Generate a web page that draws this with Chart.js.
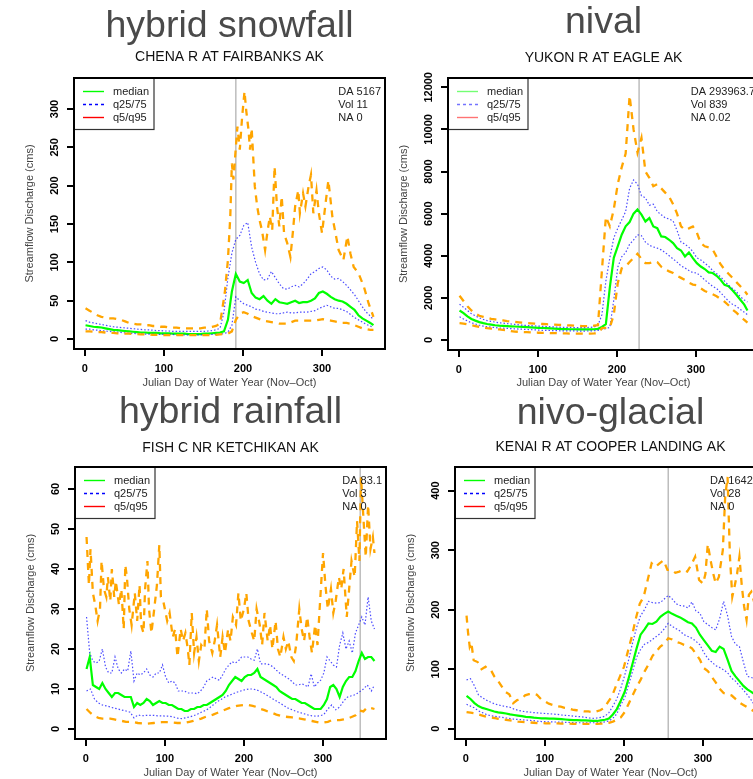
<!DOCTYPE html>
<html>
<head>
<meta charset="utf-8">
<script src="https://cdn.jsdelivr.net/npm/chart.js@4.4.1/dist/chart.umd.min.js"></script>
<style>
html, body { margin: 0; padding: 0; background: #fff; overflow: hidden; width: 753px; height: 779px; }
canvas { position: absolute; }
</style>
</head>
<body>
<canvas id="tl" width="392" height="390" style="left:0px;top:0px"></canvas>
<canvas id="tr" width="390" height="390" style="left:376px;top:0px"></canvas>
<canvas id="bl" width="393" height="390" style="left:0px;top:390px"></canvas>
<canvas id="br" width="397" height="390" style="left:376px;top:390px"></canvas>
<script>
// shared day grids (Julian day of water year)
const days5 = [1,6,11,16,21,26,31,36,41,46,51,56,61,66,71,76,81,86,91,96,101,106,111,116,121,126,131,136,141,146,151,156,161,166,171,176,181,186,191,196,201,206,211,216,221,226,231,236,241,246,251,256,261,266,271,276,281,286,291,296,301,306,311,316,321,326,331,336,341,346,351,356,361,365];
const days4 = [1,5,9,13,17,21,25,29,33,37,41,45,49,53,57,61,65,69,73,77,81,85,89,93,97,101,105,109,113,117,121,125,129,133,137,141,145,149,153,157,161,165,169,173,177,181,185,189,193,197,201,205,209,213,217,221,225,229,233,237,241,245,249,253,257,261,265,269,273,277,281,285,289,293,297,301,305,309,313,317,321,325,329,333,337,341,345,349,353,357,361,365];
const xTicks = [0, 100, 200, 300];
const legendLabels = ['median', 'q25/75', 'q5/q95'];

// ---- hybrid snowfall : CHENA R AT FAIRBANKS AK ----
const tlMedian = [18,17,16,15.5,15,14,13,12,11.5,11, 10.5,10,9.5,9,8.5,8.5,8,8,8,7.5, 7.5,7.5,7,7,7,7,6.5,6.5,6.5,6.5, 7,7,7.5,8,8.5,10,25,62,85,75, 73,77,60,54,52,56,50,46,52,48, 47,46,48,50,47,48,48,50,53,60, 62,59,55,52,50,49,46,42,38,31, 27,24,21,18];
const tlQ75 = [24,22,21,20,19,18,17,16,15.5,15, 14.5,14,13.5,13,12.5,12,12,11.5,11,11, 10.5,10.5,10,10,10,10,10,10,10,10, 10,10.5,11,12,14,35,80,112,130,135, 148,152,120,100,85,77,78,88,80,72, 66,65,68,70,68,72,78,85,88,92, 94,90,82,78,79,75,70,64,58,50, 42,35,30,25];
const tlQ25 = [13,13,12,11.5,11,10.5,10,9.5,9,8.5, 8,7.5,7.5,7,7,6.5,6.5,6.5,6,6, 6,6,6,5.5,5.5,5.5,5.5,5.5,5.5,5.5, 5.5,5.5,6,6,6.5,7,9,18,55,50, 46,44,42,39,38,36,35,34,33,33, 34,35,34,34,35,35,35,36,37,40, 42,44,42,40,40,38,36,32,28,25, 22,19,17,15];
const tlQ5 = [10,10,9.5,9,9,8.5,8,8,7.5,7.5, 7,7,6.5,6.5,6,6,6,5.5,5.5,5.5, 5,5,5,5,5,5,5,5,5,5, 5,5,5.5,5.5,6,6.5,7,10,25,33, 35,33,30,28,26,24,23,22,21,20, 20,20,22,24,24,24,24,24,24,25, 26,25,24,23,22,21,21,20,18,16, 14,13,12,12];
const tlQ95Days = [1,6,11,16,21,26,31,36,41,46,51,56,61,66,71,76,81,86,91,96,101,106,111,116,121,126,131,136,141,146,151,156,161,166,171,
  177,181,184,186,188,191,193,196,199,202,204,207,209,211,215,218,221,224,228,231,234,237,240,243,246,249,252,256,260,263,266,270,272,276,279,283,286,289,293,296,300,304,308,313,317,321,327,332,336,340,346,353,359,365];
const tlQ95 = [40,37,34,31,29,28,27,27,26,25,23,21,20,19,19,18,18,17,17,16,16,15,15,15,14,14,14,14,14,14,15,15,16,17,20,
  60,103,160,229,208,250,277,247,290,323,299,273,247,275,199,173,155,142,116,140,160,142,225,173,147,186,138,125,107,138,173,194,164,190,173,199,214,164,194,164,138,173,207,160,138,116,103,134,111,94,86,68,46,29];
const tlYTicks = [0, 50, 100, 150, 200, 250, 300];
const tlNotes = ['DA 5167', 'Vol 11', 'NA 0'];
const tlMarkDay = 191;

// ---- nival : YUKON R AT EAGLE AK ----
const trMedian = [1400,1280,1120,1000,920,850,800,760,730,700, 680,670,660,650,640,630,620,610,600,590, 580,570,560,550,540,530,520,520,510,510, 500,500,500,500,510,530,620,750,2500,3900, 4450,5000,5400,5600,6000,6200,5950,5630,5790,5390, 5310,4920,4890,4760,4600,4360,4250,3970,4160,3890, 3650,3490,3370,3210,3180,3050,2860,2620,2550,2360, 2150,1910,1680,1400];
const trQ75 = [1700,1550,1400,1250,1150,1050,980,920,880,850, 820,800,780,760,740,720,700,690,680,670, 660,650,640,630,620,610,600,600,600,590, 590,590,590,600,620,700,1200,2800,3900,4850, 5300,5700,6100,7200,7600,7400,6850,6750,6400,6450, 6100,5950,5800,5750,5650,5200,4650,4550,4400,4200, 3900,3800,3650,3500,3300,3150,3000,2800,2600,2450, 2300,2050,1900,1800];
const trQ25 = [1100,1000,900,820,760,700,660,630,610,590, 570,560,550,540,530,520,510,500,490,480, 470,460,455,450,445,440,435,430,430,430, 425,425,425,430,440,460,500,540,600,1900, 3450,3950,4150,4550,4750,5000,4950,4650,4500,4420, 4360,4280,4150,4000,3850,3700,3520,3420,3300,3200, 3180,3030,2850,2700,2550,2450,2250,2050,1850,1700, 1600,1450,1320,1200];
const trQ95 = [2100,1850,1600,1400,1250,1150,1100,1050,1000,980, 950,930,900,880,860,840,820,800,790,780, 770,760,750,740,730,720,710,700,690,680, 670,660,660,660,680,700,3300,5850,5400,6200, 7400,8200,8850,11600,10000,8900,9600,8000,7700,7300, 7400,7200,7000,6800,6450,6000,5400,5230,5300,5390, 5100,4600,4450,4400,4300,3950,3600,3350,3150,2950, 2750,2550,2350,2150];
const trQ5 = [800,780,740,700,660,620,590,560,540,520, 500,480,470,420,400,390,380,370,360,350, 345,340,335,330,325,320,315,310,305,300, 300,300,300,305,310,320,560,580,600,1200, 2700,3400,3500,3700,3900,4100,3850,3650,3650,3700, 3700,3480,3350,3260,3180,3050,2950,2850,2720,2630, 2600,2450,2330,2250,2170,2080,1950,1820,1650,1450, 1300,1120,950,820];
const trYTicks = [0, 2000, 4000, 6000, 8000, 10000, 12000];
const trNotes = ['DA 293963.7', 'Vol 839', 'NA 0.02'];
const trMarkDay = 228;

// ---- hybrid rainfall : FISH C NR KETCHIKAN AK ----
const blMedian = [15,18,11,10.5,10,11.5,10,9,8,9, 9,8.5,8,8,8,5.5,6.5,6,6.5,7.5, 7,6,6.5,7,6.5,6.5,6,6,5.5,5, 5,4.5,4.5,5,5,5.5,5.5,6,6,6.5, 7,7.5,8,8.5,9.5,11,12,13,12.5,12, 13,13.5,13.5,14,15,13,12.5,12,11.5,11, 10.5,9.5,9,8.5,8,7.5,7.5,7,6.5,6.5, 6,5.5,5,5,5,6,7.5,10.5,11,10, 8,10.5,12,13,13,14.5,17,19,17.5,18, 18,17];
const blQ75 = [28,19,17,16.5,17,20,15.5,14,14,18, 15,14,15,14.5,19.5,12,14,13.5,14,15, 13.5,13,14,14,16,13,11.5,12,11.5,9.5, 9.5,9.5,9,9,9,8.8,9.5,10.5,12,12.5, 13,12.5,12.2,13.5,15,16,16.8,16.5,17,18, 18,18,17.5,17.2,20,16.3,16.3,16.3,16,15.5, 14.7,14,13.5,13,12.5,11.8,11,11,11.3,11, 10.5,13.8,10.5,11.5,12.2,14,18,17,16,15.5, 21,24,20,22,19,24,26,28,26,33, 27,25];
const blQ25 = [9.5,10,7.5,6.5,6,5.8,5.5,5.2,5,4.7, 4.5,4.2,2.8,3.5,3.3,3.4,3.4,3.4,3.3,3.3, 3.2,3.2,3,2.7,2.6,2.8,3,3.3,3.7,4.2, 4.6,5.2,6,6.8,7.4,8,8.4,8.8,9.2,9.5, 9.8,10,10,9.8,9.3,8.8,8.2,7.6,7,6.4, 5.8,5.2,4.8,4.4,4.1,3.8,3.5,3.3,3.2,3.3, 3.6,5,6,4.8,5.5,7,8,8.3,8.6,9.3, 10,11,9.5,11];
const blQ5 = [5,4,3.2,2.8,2.6,2.6,2.6,2.4,2.2,2, 1.8,1.8,1.7,1.5,1.4,1.3,1.4,1.5,1.6,1.7, 1.7,1.7,1.6,1.5,1.5,1.6,1.8,2,2.3,2.6, 3,3.3,3.6,4,4.4,4.8,5.2,5.5,5.8,5.9, 6,6,5.8,5.5,5,4.7,4.3,4,3.6,3.3, 3.1,3,2.9,2.7,2.6,2.4,2.2,2,1.8,1.6, 1.6,1.8,2.2,2.2,2.2,2.4,2.6,3,3.4,4.6, 4.4,5.4,5.2,5];
const blQ95Days = [1,4,6,9,12,15,18,20,23,26,28,31,33,36,38,42,45,48,50,52,55,58,62,65,68,70,73,75,78,80,83,86,90,93,95,98,100,103,106,110,113,116,120,123,126,129,131,134,137,140,143,146,150,153,156,160,163,166,170,173,176,180,183,186,190,193,196,200,203,206,210,213,216,220,223,226,230,233,236,240,243,246,250,253,256,260,263,266,270,273,276,280,283,286,290,293,296,300,303,306,310,313,316,320,323,326,330,333,336,340,343,346,348,351,354,357,360,363,365];
const blQ95 = [48,36,45,34,31,27,30,42,35,33,38,32,40,33,37,31,35,25,41,38,30,26,34,27,36,26,24,35,42,30,24,29,36,46,33,32,30,27,29,23,25,18,25,22,24,20,16,29,19,23,17,21,20,30,22,19,22,26,18,23,19,25,22,28,26,34,27,30,34,27,24,22,30,26,21,29,22,26,20,27,20,18,23,20,22,18,17,21,30,25,22,28,23,19,26,21,31,44,36,30,35,29,32,38,35,40,28,35,42,38,52,42,63,53,43,56,45,48,44];
const blYTicks = [0, 10, 20, 30, 40, 50, 60];
const blNotes = ['DA 83.1', 'Vol 3', 'NA 0'];
const blMarkDay = 347;

// ---- nivo-glacial : KENAI R AT COOPER LANDING AK ----
const brMedian = [55,50,43,38,35,33,31,29,27.5,26.5, 25.5,24,23,22,21,20,19.5,18.5,18,17.5, 17.5,17,17,16.5,16,15.5,15,14.5,14.5,14, 14,13.5,13,13,14,15,17,24,33,47, 62,85,110,135,158,167,177,176,180,188, 193,197,193,190,187,183,179,177,170,158, 149,140,131,129,138,134,116,97,88,80, 72,66,62,58];
const brQ75 = [82,84,72,57,52,48,45,42,40,38.5, 37,36,33,31,29.5,28.5,28,27,26.5,26, 25.5,25,24.5,24,23,22.5,22,21,20.5,20, 19,18,17.5,18,19,21,27,38,50,68, 90,116,145,170,190,200,214,212,211,212, 218,224,218,210,207,206,203,213,198,194, 180,175,170,166,185,214,190,155,142,138, 112,88,86,85];
const brQ25 = [41,38,35,30,27,24,22,21,20,19, 18,17,16,15.5,15,14.5,14,13.5,12.5,12, 11.8,11.5,11.3,11.2,11,10.8,10.5,10.2,10,10, 10,10,10,10,10.5,11.5,13,17.5,25,40, 52,74,97,120,133,142,145,150,155,160, 168,177,172,168,164,158,155,152,147,141, 128,118,112,106,103,99,94,85,80,72, 65,57,48,40];
const brQ5 = [28,27,26,24,22,20,19,18,16.5,15.5, 15,14,13,12,11.5,11,10.5,10,9.5,9.5, 9,9,9,9,8.5,8.5,8.5,8,8,8, 8,8,8,8,8.5,9,10,12,15,19, 28,42,56,70,82,96,108,122,130,138, 143,152,150,146,144,141,139,135,126,116, 102,97,87,78,67,60,58,56,50,44, 40,36,32,29];
const brQ95Days = [1,3,5,7,10,15,20,25,28,32,36,40,45,50,55,60,65,70,75,80,85,90,95,100,105,110,115,120,125,130,135,140,145,150,155,160,165,170,175,180,185,190,195,200,205,210,215,220,225,230,235,240,245,250,255,260,265,270,275,280,285,290,295,300,303,306,310,313,316,320,325,328,331,334,337,340,343,346,349,352,355,358,361,365];
const brQ95 = [190,160,138,145,115,112,100,104,100,98,88,82,72,62,58,43,48,50,56,58,59,57,50,46,42,40,38,37,35,34,32,31,30,29,29,28,29,31,35,45,55,72,88,104,130,155,185,210,222,250,278,272,278,283,267,267,262,264,267,264,275,289,250,244,260,310,280,260,244,255,300,390,423,289,222,240,260,289,240,205,183,225,230,211];
const brYTicks = [0, 100, 200, 300, 400];
const brNotes = ['DA 1642.1', 'Vol 28', 'NA 0'];
const brMarkDay = 256;

Chart.defaults.font.family = '"Liberation Sans", Arial, Helvetica, sans-serif';
const FONT = '"Liberation Sans", Arial, Helvetica, sans-serif';

const pts = (xs, ys) => xs.map((d, i) => ({ x: d, y: ys[i] }));

// frame, legend, notes, marker line and rotated y labels (R base-graphics look)
const panelPlugin = {
  id: 'panel',
  beforeDatasetsDraw(chart, args, o) {
    const { ctx, chartArea: a, scales: { x } } = chart;
    const px = x.getPixelForValue(o.markDay);
    ctx.save();
    ctx.strokeStyle = '#bdbdbd';
    ctx.lineWidth = 1.5;
    ctx.beginPath();
    ctx.moveTo(px, a.top);
    ctx.lineTo(px, a.bottom);
    ctx.stroke();
    ctx.restore();
  },
  afterDatasetsDraw(chart, args, o) {
    const { ctx, chartArea: a } = chart;
    const L = a.left, T = a.top;
    ctx.save();
    ctx.fillStyle = '#fff';
    ctx.fillRect(L, T, 80, 51.5);
    ctx.strokeStyle = '#333';
    ctx.lineWidth = 1.2;
    ctx.strokeRect(L, T, 80, 51.5);
    const cols = o.legendColors;
    const dashes = [[], [3, 3], []];
    ctx.font = '11px ' + FONT;
    ctx.textBaseline = 'middle';
    legendLabels.forEach((lab, i) => {
      const y = T + 13.5 + 13 * i;
      ctx.strokeStyle = cols[i];
      ctx.lineWidth = 1.4;
      ctx.setLineDash(dashes[i]);
      ctx.beginPath();
      ctx.moveTo(L + 9, y);
      ctx.lineTo(L + 30, y);
      ctx.stroke();
      ctx.setLineDash([]);
      ctx.fillStyle = '#222';
      ctx.fillText(lab, L + 39, y);
    });
    const w = Math.max(...o.notes.map(s => ctx.measureText(s).width));
    o.notes.forEach((s, i) => ctx.fillText(s, a.right - 4 - w, T + 13.5 + 13 * i));
    ctx.restore();
  },
  afterDraw(chart) {
    const { ctx, chartArea: a, scales: { y } } = chart;
    ctx.save();
    ctx.strokeStyle = '#000';
    ctx.lineWidth = 2;
    ctx.strokeRect(a.left, a.top, a.right - a.left, a.bottom - a.top);
    ctx.font = 'bold 11px ' + FONT;
    ctx.fillStyle = '#000';
    ctx.textAlign = 'center';
    ctx.textBaseline = 'middle';
    y.ticks.forEach(t => {
      ctx.save();
      ctx.translate(a.left - 19.5, y.getPixelForValue(t.value));
      ctx.rotate(-Math.PI / 2);
      ctx.fillText(String(t.value), 0, 0);
      ctx.restore();
    });
    ctx.restore();
  }
};

function makePanel(p) {
  const tMid = p.titleBase - 0.3465 * 37.5;
  const tTop = tMid - 18.75;
  const sMid = p.subBase - 0.3465 * 14;
  const sTop = sMid - 7 - (tTop + 37.5);
  const sBottom = p.boxTop - (sMid + 7);
  const orange = { borderColor: '#FFA500', borderWidth: 2.3, borderDash: [7, 6] };
  const blue = { borderColor: 'rgba(30,30,255,0.8)', borderWidth: 1.2, borderDash: [1.5, 2] };
  const a = p.legendAlpha;
  new Chart(document.getElementById(p.id), {
    type: 'line',
    data: {
      datasets: [
        { label: 'q95', data: pts(p.q95Days, p.q95), ...orange },
        { label: 'q5', data: pts(p.q5Days, p.q5), ...orange },
        { label: 'q75', data: pts(p.q75Days, p.q75), ...blue },
        { label: 'q25', data: pts(p.q25Days, p.q25), ...blue },
        { label: 'median', data: pts(p.medDays, p.median), borderColor: '#00FF00', borderWidth: 2.2 }
      ]
    },
    options: {
      responsive: false,
      animation: false,
      events: [],
      elements: { point: { radius: 0 }, line: { tension: 0, fill: false } },
      layout: { padding: { left: 0, right: p.padRight, top: 0, bottom: 0 } },
      plugins: {
        legend: { display: false },
        tooltip: { enabled: false },
        title: {
          display: true, text: p.title, fullSize: false, color: '#4a4a4a',
          font: { size: 37.5, weight: 'normal', lineHeight: 1 },
          padding: { top: tTop, bottom: 0 }
        },
        subtitle: {
          display: true, text: p.sub, fullSize: false, color: '#111',
          font: { size: 14, weight: 'normal', lineHeight: 1 },
          padding: { top: sTop, bottom: sBottom }
        },
        panel: {
          markDay: p.markDay, notes: p.notes,
          legendColors: ['rgba(0,255,0,' + a + ')', 'rgba(0,0,255,' + a + ')', 'rgba(255,0,0,' + a + ')']
        }
      },
      scales: {
        x: {
          type: 'linear', min: -13.6, max: 379.6, bounds: 'data',
          afterBuildTicks: s => { s.ticks = xTicks.map(v => ({ value: v })); },
          afterFit: s => { s.height = p.xAxisH; },
          grid: { drawOnChartArea: false, drawTicks: true, tickLength: 7, color: '#000', lineWidth: 2 },
          border: { display: false },
          ticks: { color: '#000', font: { size: 11, weight: 'bold' }, padding: 6.4, maxRotation: 0, autoSkip: false },
          title: {
            display: true, text: 'Julian Day of Water Year (Nov\u2013Oct)', color: '#444',
            font: { size: 11 }, padding: { top: 0, bottom: 0.9 }
          }
        },
        y: {
          type: 'linear', min: p.yMin, max: p.yMax, bounds: 'data',
          afterBuildTicks: s => { s.ticks = p.yTicks.map(v => ({ value: v })); },
          afterFit: s => { s.width = p.boxLeft; },
          grid: { drawOnChartArea: false, drawTicks: true, tickLength: 7, color: '#000', lineWidth: 2 },
          border: { display: false },
          ticks: { display: false },
          title: {
            display: true, text: 'Streamflow Discharge (cms)', color: '#444',
            font: { size: 11 }, padding: { top: p.boxLeft - 44.5 - 6.6, bottom: 0 }
          }
        }
      }
    },
    plugins: [panelPlugin]
  });
}

makePanel({
  id: 'tl', title: 'hybrid snowfall', sub: 'CHENA R AT FAIRBANKS AK',
  medDays: days5, median: tlMedian, q75Days: days5, q75: tlQ75, q25Days: days5, q25: tlQ25,
  q5Days: days5, q5: tlQ5, q95Days: tlQ95Days, q95: tlQ95,
  yMin: -13, yMax: 340.4, yTicks: tlYTicks, notes: tlNotes, markDay: tlMarkDay,
  boxLeft: 74, boxTop: 78, xAxisH: 41, padRight: 7, titleBase: 40, subBase: 62, legendAlpha: 1
});
makePanel({
  id: 'tr', title: 'nival', sub: 'YUKON R AT EAGLE AK',
  medDays: days5, median: trMedian, q75Days: days5, q75: trQ75, q25Days: days5, q25: trQ25,
  q5Days: days5, q5: trQ5, q95Days: days5, q95: trQ95,
  yMin: -475, yMax: 12442, yTicks: trYTicks, notes: trNotes, markDay: trMarkDay,
  boxLeft: 72, boxTop: 78, xAxisH: 40, padRight: 7, titleBase: 36, subBase: 63, legendAlpha: 0.55
});
makePanel({
  id: 'bl', title: 'hybrid rainfall', sub: 'FISH C NR KETCHIKAN AK',
  medDays: days4, median: blMedian, q75Days: days4, q75: blQ75, q25Days: days5, q25: blQ25,
  q5Days: days5, q5: blQ5, q95Days: blQ95Days, q95: blQ95,
  yMin: -2.5, yMax: 65.5, yTicks: blYTicks, notes: blNotes, markDay: blMarkDay,
  boxLeft: 75, boxTop: 77, xAxisH: 41, padRight: 7, titleBase: 36, subBase: 63, legendAlpha: 1
});
makePanel({
  id: 'br', title: 'nivo-glacial', sub: 'KENAI R AT COOPER LANDING AK',
  medDays: days5, median: brMedian, q75Days: days5, q75: brQ75, q25Days: days5, q25: brQ25,
  q5Days: days5, q5: brQ5, q95Days: brQ95Days, q95: brQ95,
  yMin: -17.3, yMax: 439.8, yTicks: brYTicks, notes: brNotes, markDay: brMarkDay,
  boxLeft: 79, boxTop: 77, xAxisH: 41, padRight: 7, titleBase: 37, subBase: 62, legendAlpha: 1
});
</script>
</body>
</html>
